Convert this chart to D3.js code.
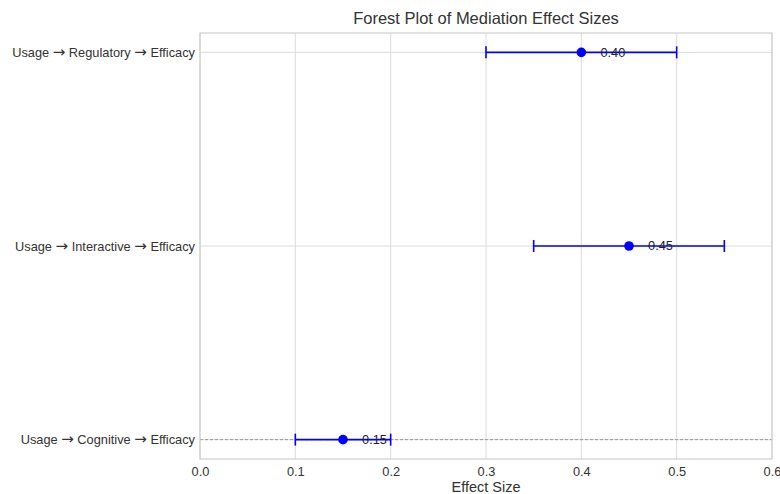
<!DOCTYPE html>
<html><head><meta charset="utf-8">
<script src="https://cdn.jsdelivr.net/npm/d3@7"></script>
<style>
body{margin:0;background:#fff;}
svg{display:block;font-family:"Liberation Sans",Arial,sans-serif;}
</style></head>
<body><svg id="c" width="780" height="494"></svg>
<script>
const paths = ["Usage → Cognitive → Efficacy","Usage → Interactive → Efficacy","Usage → Regulatory → Efficacy"];
const estimates = [0.15, 0.45, 0.40];
const lower = [0.10, 0.35, 0.30];
const upper = [0.20, 0.55, 0.50];
const labels = ["0.15","0.45","0.40"];
const xTicks = [0.0,0.1,0.2,0.3,0.4,0.5,0.6];

const svg = d3.select("#c");
const L=200,R=772,T=33,B=459;
const x = d3.scaleLinear().domain([0,0.6]).range([L,R]);
const y = d3.scaleLinear().domain([-0.1,2.1]).range([B,T]);
const gridC="#dcdcdc";

// grid
svg.append("g").selectAll("line").data(xTicks).join("line")
  .attr("x1",d=>x(d)).attr("x2",d=>x(d)).attr("y1",T).attr("y2",B)
  .attr("stroke",gridC).attr("stroke-width",1);
svg.append("g").selectAll("line").data(paths).join("line")
  .attr("x1",L).attr("x2",R).attr("y1",(d,i)=>y(i)).attr("y2",(d,i)=>y(i))
  .attr("stroke",gridC).attr("stroke-width",1);

// dashed reference line at 0
svg.append("line").attr("x1",L).attr("x2",R).attr("y1",y(0)).attr("y2",y(0))
  .attr("stroke","#999").attr("stroke-width",1).attr("stroke-dasharray","3,2");

// frame
svg.append("rect").attr("x",L).attr("y",T).attr("width",R-L).attr("height",B-T)
  .attr("fill","none").attr("stroke","#cfcfcf").attr("stroke-width",1.2);

// x axis
const xa = svg.append("g").attr("transform",`translate(0,${B})`)
  .call(d3.axisBottom(x).tickValues(xTicks).tickFormat(d3.format(".1f")).tickSize(0).tickPadding(8));
xa.select(".domain").remove();
xa.selectAll("text").attr("font-size",12.8).attr("fill","#333").attr("font-family","Liberation Sans, Arial, sans-serif");

// y axis
const ya = svg.append("g").attr("transform",`translate(${L},0)`)
  .call(d3.axisLeft(y).tickValues([0,1,2]).tickFormat(i=>paths[i]).tickSize(0).tickPadding(5));
ya.select(".domain").remove();
ya.selectAll("text").attr("font-size",12.8).attr("fill","#333").attr("font-family","Liberation Sans, Arial, sans-serif")
  .each(function(i){
    const t=d3.select(this); const s=paths[i]; t.text(null);
    s.split(/(→)/).forEach(part=>{
      const ts=t.append("tspan").text(part);
      if(part==="→") ts.attr("font-family","DejaVu Sans").attr("font-size",15);
    });
  });

// error bars
const g = svg.append("g");
paths.forEach((p,i)=>{
  const yy=y(i);
  g.append("line").attr("x1",x(lower[i])).attr("x2",x(upper[i])).attr("y1",yy).attr("y2",yy)
    .attr("stroke","blue").attr("stroke-width",1.6);
  [lower[i],upper[i]].forEach(v=>{
    g.append("line").attr("x1",x(v)).attr("x2",x(v)).attr("y1",yy-6).attr("y2",yy+6)
      .attr("stroke","blue").attr("stroke-width",1.6);
  });
  g.append("circle").attr("cx",x(estimates[i])).attr("cy",yy).attr("r",4.8).attr("fill","blue");
  g.append("text").attr("x",x(estimates[i]+0.02)).attr("y",yy).attr("dy","0.35em")
    .attr("font-size",12.8).attr("fill","#222").text(labels[i]);
});

// title & label
svg.append("text").attr("x",(L+R)/2).attr("y",24).attr("text-anchor","middle")
  .attr("font-size",16.5).attr("fill","#333").text("Forest Plot of Mediation Effect Sizes");
svg.append("text").attr("x",(L+R)/2).attr("y",492).attr("text-anchor","middle")
  .attr("font-size",14.5).attr("fill","#333").text("Effect Size");
</script></body></html>
